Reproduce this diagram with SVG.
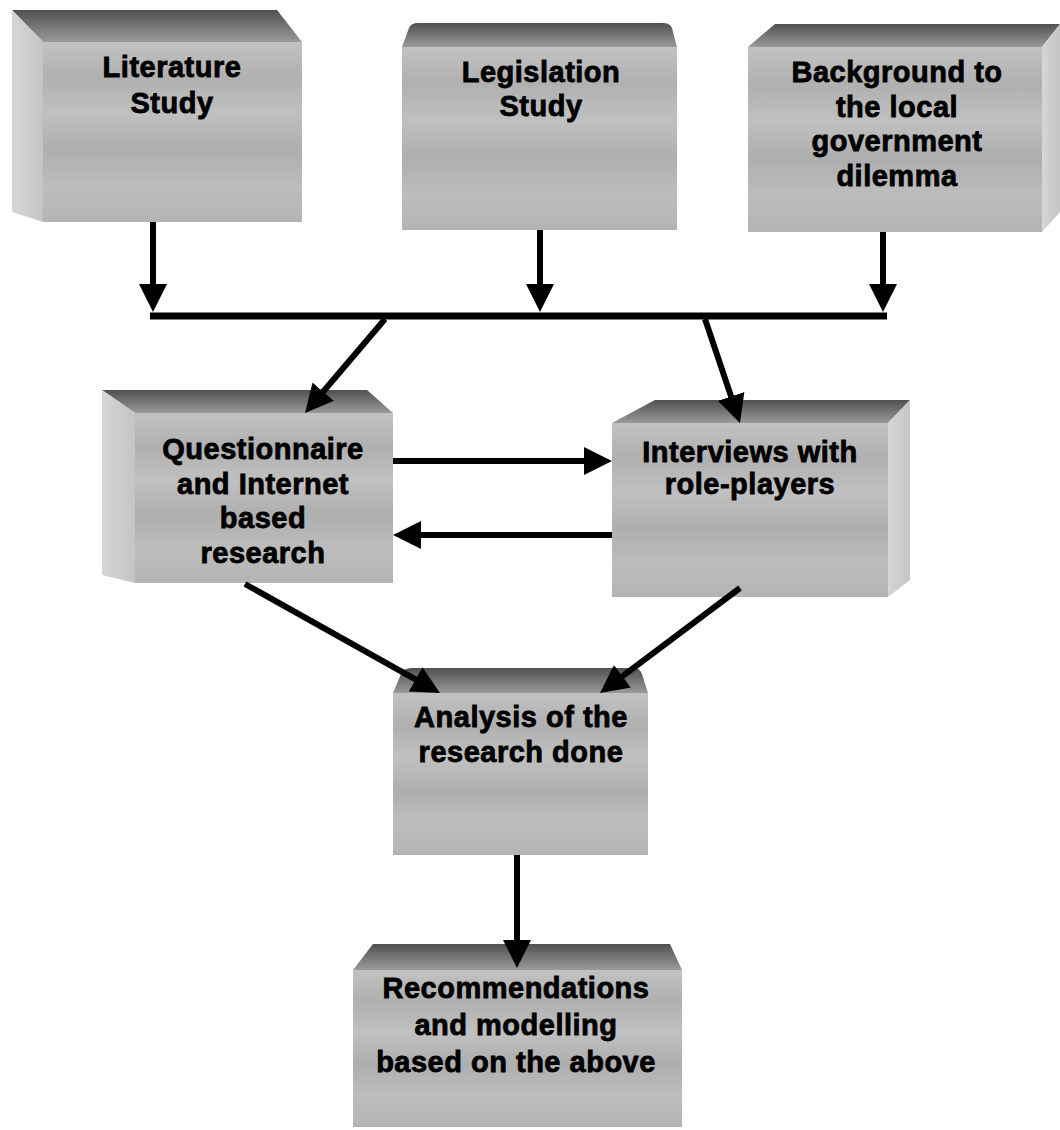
<svg xmlns="http://www.w3.org/2000/svg" width="1060" height="1130" viewBox="0 0 1060 1130">
<style>
.front{fill:url(#gFront);stroke:none}
.top{fill:url(#gTop);stroke:none}
.side{fill:url(#gSide);stroke:none}
.lbl{font-family:"Liberation Sans",Arial,sans-serif;font-weight:bold;font-size:29px;fill:#000;stroke:#000;stroke-width:0.8;letter-spacing:0.5px;text-anchor:middle}
.con{stroke:#000;stroke-width:6;fill:none;marker-end:url(#ah)}
.bar{stroke:#000;stroke-width:7;fill:none}
</style>
<defs>
<linearGradient id="gFront" x1="0" y1="0" x2="0" y2="1">
<stop offset="0" stop-color="#c2c2c2"/>
<stop offset="0.2" stop-color="#b0b0b0"/>
<stop offset="0.4" stop-color="#c0c0c0"/>
<stop offset="0.6" stop-color="#aeaeae"/>
<stop offset="0.8" stop-color="#bdbdbd"/>
<stop offset="1" stop-color="#b4b4b4"/>
</linearGradient>
<linearGradient id="gTop" x1="0" y1="0" x2="0" y2="1">
<stop offset="0" stop-color="#505050"/>
<stop offset="1" stop-color="#9a9a9a"/>
</linearGradient>
<linearGradient id="gSide" x1="0" y1="0" x2="1" y2="0">
<stop offset="0" stop-color="#d6d6d6"/>
<stop offset="1" stop-color="#c4c4c4"/>
</linearGradient>
<marker id="ah" viewBox="0 0 28 28" markerWidth="28" markerHeight="28" markerUnits="userSpaceOnUse" refX="6" refY="14" orient="auto">
<path d="M0,0 L28,14 L0,28 z" fill="#000"/>
</marker>
</defs>

<g id="literature">
<polygon class="top" points="12,10 277,10 302,42 43,42"/>
<polygon class="side" points="12,10 43,42 43,222 12,212"/>
<rect class="front" x="43" y="42" width="259" height="180"/>
<text class="lbl" x="172" y="77">Literature</text>
<text class="lbl" x="172" y="113">Study</text>
</g>

<g id="legislation">
<path class="top" d="M402,47 L409,28 Q411,23 418,23 L663,23 Q670,23 672,28 L677,47 Z"/>
<rect class="front" x="402" y="47" width="275" height="183"/>
<text class="lbl" x="541" y="82">Legislation</text>
<text class="lbl" x="541" y="116">Study</text>
</g>

<g id="background">
<polygon class="top" points="775,24 1060,24 1042,47 748,47"/>
<polygon class="side" points="1042,47 1060,24 1060,212 1042,232"/>
<rect class="front" x="748" y="47" width="294" height="185"/>
<text class="lbl" x="897" y="82">Background to</text>
<text class="lbl" x="897" y="117">the local</text>
<text class="lbl" x="897" y="151">government</text>
<text class="lbl" x="897" y="186">dilemma</text>
</g>

<g id="questionnaire">
<polygon class="top" points="102,390 367,390 393,413 135,413"/>
<polygon class="side" points="102,390 135,413 135,583 102,575"/>
<rect class="front" x="135" y="413" width="258" height="170"/>
<text class="lbl" x="263" y="459">Questionnaire</text>
<text class="lbl" x="263" y="494">and Internet</text>
<text class="lbl" x="263" y="528">based</text>
<text class="lbl" x="263" y="563">research</text>
</g>

<g id="interviews">
<polygon class="top" points="655,400 910,400 888,423 612,423"/>
<polygon class="side" points="888,423 910,400 910,580 888,597"/>
<rect class="front" x="612" y="423" width="276" height="174"/>
<text class="lbl" x="750" y="462">Interviews with</text>
<text class="lbl" x="750" y="494">role-players</text>
</g>

<g id="analysis">
<path class="top" d="M393,693 L401,674 Q404,668 411,668 L633,668 Q640,668 642,674 L648,693 Z"/>
<rect class="front" x="393" y="693" width="255" height="162"/>
<text class="lbl" x="521" y="727">Analysis of the</text>
<text class="lbl" x="521" y="762">research done</text>
</g>

<g id="recommendations">
<polygon class="top" points="373,944 670,944 682,970 353,970"/>
<rect class="front" x="353" y="970" width="329" height="157"/>
<text class="lbl" x="516" y="998">Recommendations</text>
<text class="lbl" x="516" y="1035">and modelling</text>
<text class="lbl" x="516" y="1072">based on the above</text>
</g>

<g id="connectors">
<line class="bar" x1="150" y1="316" x2="887" y2="316"/>
<line class="con" x1="153" y1="222" x2="153" y2="290"/>
<line class="con" x1="540" y1="230" x2="540" y2="290"/>
<line class="con" x1="883" y1="232" x2="883" y2="290"/>
<line class="con" x1="385" y1="319" x2="319.3" y2="396.2"/>
<line class="con" x1="705" y1="319" x2="733" y2="402.1"/>
<line class="con" x1="393" y1="461" x2="590" y2="461"/>
<line class="con" x1="612" y1="535" x2="415" y2="535"/>
<line class="con" x1="245" y1="584" x2="420.8" y2="682.3"/>
<line class="con" x1="740" y1="588" x2="617.6" y2="679.8"/>
<line class="con" x1="517" y1="855" x2="517" y2="946"/>
</g>
</svg>
